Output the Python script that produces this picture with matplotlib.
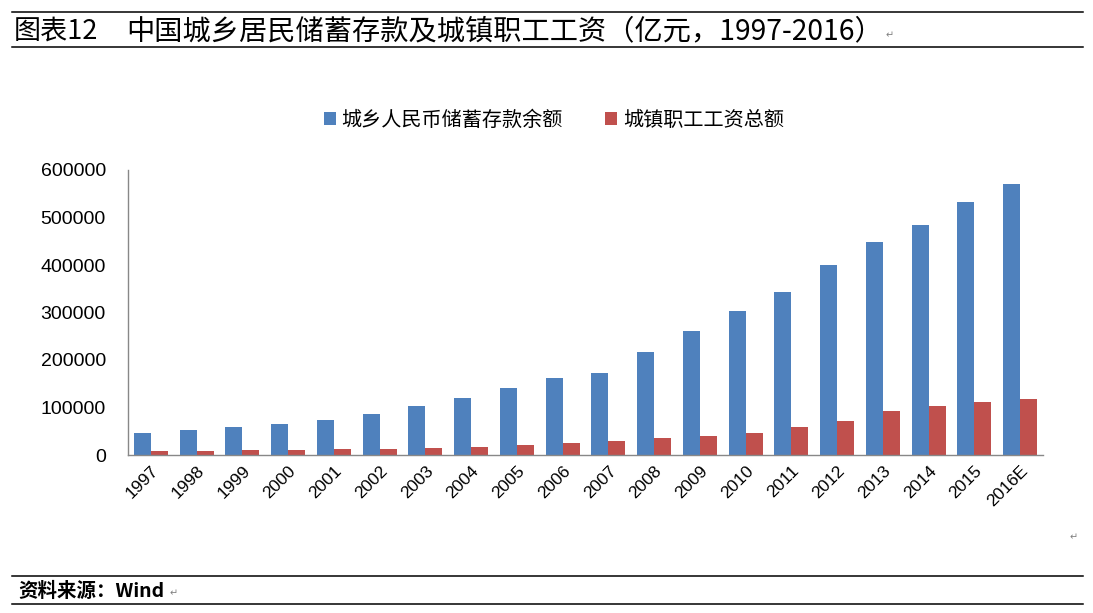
import matplotlib.pyplot as plt
import numpy as np

plt.rcParams['font.family'] = ['Noto Sans CJK SC', 'DejaVu Sans']

YEARS = ['1997', '1998', '1999', '2000', '2001', '2002', '2003', '2004', '2005', '2006',
         '2007', '2008', '2009', '2010', '2011', '2012', '2013', '2014', '2015', '2016E']
SAVINGS = [46280, 53407, 59622, 64332, 73762, 86911, 103618, 119555, 141051, 161587,
           172534, 217885, 260772, 303302, 343636, 399551, 447602, 485261, 532000, 570500]
WAGES = [9405, 9296, 9875, 10656, 11831, 13161, 15329, 17615, 20628, 24262,
         29472, 35289, 40288, 47270, 59955, 70914, 93064, 102817, 112008, 118500]

BLUE = '#4F81BD'
RED = '#C0504D'

fig = plt.figure(figsize=(10.93, 6.13), dpi=100)
W, H = 1093, 613

# header / footer rules
for y in (12, 47, 576, 604):
  fig.add_artist(plt.Line2D([12 / W, 1083 / W], [1 - y / H, 1 - y / H],
                            color='black', linewidth=1.1))
fig.text(14 / W, 1 - 31 / H, '图表12', fontsize=19.5, fontweight='medium',
         va='center', ha='left')
fig.text(126 / W, 1 - 31 / H, '中国城乡居民储蓄存款及城镇职工工资（亿元，1997-2016）',
         fontsize=20.3, fontweight='medium', va='center', ha='left')
fig.text(886 / W, 1 - 35 / H, '↵', fontsize=7, color='gray', va='center')
fig.text(18 / W, 1 - 591 / H, '资料来源：Wind', fontsize=14, fontweight='bold',
         style='italic', va='center', ha='left')
fig.text(170 / W, 1 - 593 / H, '↵', fontsize=7, color='gray', va='center')
fig.text(1070 / W, 1 - 537 / H, '↵', fontsize=7, color='gray', va='center')

ax = fig.add_axes([128 / W, 1 - 455 / H, (1043 - 128) / W, (455 - 170) / H])
x = np.arange(len(YEARS))
bw = 0.37
ax.bar(x - bw / 2, SAVINGS, bw, color=BLUE, label='城乡人民币储蓄存款余额')
ax.bar(x + bw / 2, WAGES, bw, color=RED, label='城镇职工工资总额')

ax.set_xlim(-0.5, len(YEARS) - 0.5)
ax.set_ylim(0, 600000)
ax.set_yticks(np.arange(0, 600001, 100000))
ax.set_yticklabels([str(v) for v in range(0, 600001, 100000)], fontsize=14,
                   family=['Liberation Sans', 'DejaVu Sans'])
ax.set_xticks(x)
ax.set_xticklabels(YEARS, rotation=45, ha='right', rotation_mode='anchor', fontsize=12.5,
                   family=['Liberation Sans', 'DejaVu Sans'])
ax.tick_params(axis='y', length=0, pad=16)
ax.tick_params(axis='x', length=0, pad=6)
for side in ('top', 'right'):
  ax.spines[side].set_visible(False)
for side in ('left', 'bottom'):
  ax.spines[side].set_color('#888888')
  ax.spines[side].set_linewidth(1)

leg = fig.legend(loc='center', bbox_to_anchor=(554 / W, 1 - 120 / H), ncol=2,
                 frameon=False, fontsize=14.5, handlelength=0.6, handleheight=0.6,
                 handletextpad=0.3, columnspacing=2.1)

plt.savefig('out.png', dpi=100)
plt.close()
